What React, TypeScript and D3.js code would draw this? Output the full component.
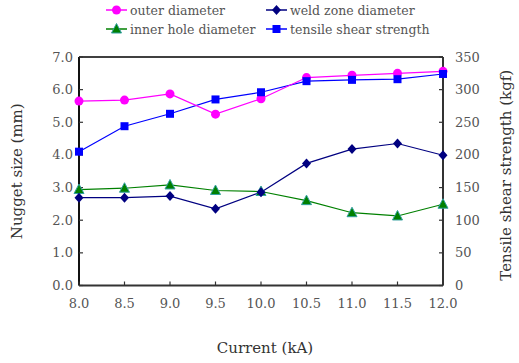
import React from "react";
import * as d3 from "d3";

const currents = [8.0, 8.5, 9.0, 9.5, 10.0, 10.5, 11.0, 11.5, 12.0];
const outerDiameter = [5.65, 5.68, 5.87, 5.25, 5.72, 6.37, 6.44, 6.5, 6.56];
const weldZoneDiameter = [2.69, 2.69, 2.74, 2.35, 2.86, 3.74, 4.18, 4.35, 3.99];
const innerHoleDiameter = [2.94, 2.98, 3.08, 2.91, 2.88, 2.6, 2.23, 2.13, 2.49];
const tensileStrength = [205, 244, 263, 285, 296, 313, 315, 316, 324];
const xTicks = [8.0, 8.5, 9.0, 9.5, 10.0, 10.5, 11.0, 11.5, 12.0];
const yLeftTicks = [0, 1, 2, 3, 4, 5, 6, 7];
const yRightTicks = [0, 50, 100, 150, 200, 250, 300, 350];

const W = 519, H = 363;
const L = 79, R = 443, T = 57, B = 285.5;
const FONT = "'DejaVu Serif', serif";
const TXT = "#555";

export default function App() {
  const x = d3.scaleLinear().domain([8, 12]).range([L, R]);
  const yL = d3.scaleLinear().domain([0, 7]).range([B, T]);
  const yR = d3.scaleLinear().domain([0, 350]).range([B, T]);
  const line = d3.line<[number, number]>().x(d => d[0]).y(d => d[1]);

  const ptsOuter = currents.map((c, i) => [x(c), yL(outerDiameter[i])] as [number, number]);
  const ptsWeld = currents.map((c, i) => [x(c), yL(weldZoneDiameter[i])] as [number, number]);
  const ptsInner = currents.map((c, i) => [x(c), yL(innerHoleDiameter[i])] as [number, number]);
  const ptsTensile = currents.map((c, i) => [x(c), yR(tensileStrength[i])] as [number, number]);

  const circle = (p: [number, number], k: any) => <circle key={k} cx={p[0]} cy={p[1]} r={4.5} fill="#FF00FF" />;
  const diamond = (p: [number, number], k: any) => (
    <path key={k} d={`M${p[0]},${p[1] - 5}L${p[0] + 4.5},${p[1]}L${p[0]},${p[1] + 5}L${p[0] - 4.5},${p[1]}Z`} fill="#000080" />
  );
  const tri = (p: [number, number], k: any) => (
    <path key={k} d={`M${p[0]},${p[1] - 5.5}L${p[0] + 5},${p[1] + 4}L${p[0] - 5},${p[1] + 4}Z`} fill="#008000" stroke="#33A0A0" strokeWidth={1} />
  );
  const square = (p: [number, number], k: any) => <rect key={k} x={p[0] - 4} y={p[1] - 4} width={8} height={8} fill="#0000FF" />;

  const legend = [
    { label: "outer diameter", color: "#FF00FF", m: circle, x: 106, y: 10 },
    { label: "weld zone diameter", color: "#000080", m: diamond, x: 266, y: 10 },
    { label: "inner hole diameter", color: "#008000", m: tri, x: 106, y: 29 },
    { label: "tensile shear strength", color: "#0000FF", m: square, x: 266, y: 29 },
  ];

  return (
    <svg width={W} height={H} style={{ position: "absolute", left: 0, top: 0, background: "#fff" }}>
      <rect width={W} height={H} fill="#fff" />
      {/* legend */}
      {legend.map((l, i) => (
        <g key={i}>
          <line x1={l.x} x2={l.x + 21} y1={l.y} y2={l.y} stroke={l.color} strokeWidth={1.5} />
          {l.m([l.x + 10.5, l.y], "m")}
          <text x={l.x + 24} y={l.y + 4.5} fontFamily={FONT} fontSize={12.5} fill={TXT}>{l.label}</text>
        </g>
      ))}
      {/* frame */}
      <line x1={L} x2={R} y1={T} y2={T} stroke="#000" strokeWidth={1.5} />
      <line x1={L} x2={R} y1={B} y2={B} stroke="#333" strokeWidth={2} />
      <line x1={L} x2={L} y1={T} y2={B} stroke="#111" strokeWidth={2} />
      <line x1={R} x2={R} y1={T} y2={B} stroke="#333" strokeWidth={2} />
      {/* ticks */}
      {yLeftTicks.map(t => (
        <g key={"yl" + t}>
          <line x1={L} x2={L + 4} y1={yL(t)} y2={yL(t)} stroke="#333" strokeWidth={1.2} />
          <text x={L - 6} y={yL(t) + 4.5} textAnchor="end" fontFamily={FONT} fontSize={13} fill={TXT}>{t.toFixed(1)}</text>
        </g>
      ))}
      {yRightTicks.map(t => (
        <g key={"yr" + t}>
          <line x1={R - 4} x2={R} y1={yR(t)} y2={yR(t)} stroke="#333" strokeWidth={1.2} />
          <text x={R + 12} y={yR(t) + 4.5} textAnchor="start" fontFamily={FONT} fontSize={13} fill={TXT}>{t}</text>
        </g>
      ))}
      {xTicks.map(t => (
        <g key={"x" + t}>
          <line x1={x(t)} x2={x(t)} y1={B - 4} y2={B} stroke="#333" strokeWidth={1.2} />
          <text x={x(t)} y={B + 22} textAnchor="middle" fontFamily={FONT} fontSize={13} fill={TXT}>{t.toFixed(1)}</text>
        </g>
      ))}
      {/* axis titles */}
      <text x={265} y={353} textAnchor="middle" fontFamily={FONT} fontSize={15} fill="#333">Current (kA)</text>
      <text transform={`translate(22,${(T + B) / 2}) rotate(-90)`} textAnchor="middle" fontFamily={FONT} fontSize={15} fill="#333">Nugget size (mm)</text>
      <text transform={`translate(511,${(T + B) / 2 + 4}) rotate(-90)`} textAnchor="middle" fontFamily={FONT} fontSize={15} fill="#333">Tensile shear strength (kgf)</text>
      {/* series */}
      <path d={line(ptsInner) || ""} fill="none" stroke="#008000" strokeWidth={1.2} />
      <path d={line(ptsWeld) || ""} fill="none" stroke="#000080" strokeWidth={1.2} />
      <path d={line(ptsTensile) || ""} fill="none" stroke="#0000FF" strokeWidth={1.2} />
      <path d={line(ptsOuter) || ""} fill="none" stroke="#FF00FF" strokeWidth={1.2} />
      {ptsInner.map((p, i) => tri(p, "t" + i))}
      {ptsWeld.map((p, i) => diamond(p, "d" + i))}
      {ptsOuter.map((p, i) => circle(p, "c" + i))}
      {ptsTensile.map((p, i) => square(p, "s" + i))}
    </svg>
  );
}
